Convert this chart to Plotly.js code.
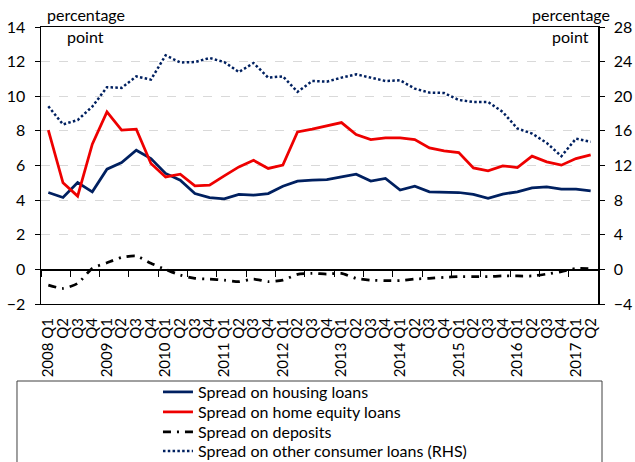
<!DOCTYPE html>
<html>
<head>
<meta charset="utf-8">
<script src="https://cdn.plot.ly/plotly-3.0.1.min.js"></script>
<style>html,body{margin:0;padding:0;background:#fff;}#chart{width:635px;height:462px;}</style>
</head>
<body>
<div id="chart"></div>
<script>
const quarters = ['2008Q1','2008Q2','2008Q3','2008Q4','2009Q1','2009Q2','2009Q3','2009Q4',
  '2010Q1','2010Q2','2010Q3','2010Q4','2011Q1','2011Q2','2011Q3','2011Q4',
  '2012Q1','2012Q2','2012Q3','2012Q4','2013Q1','2013Q2','2013Q3','2013Q4',
  '2014Q1','2014Q2','2014Q3','2014Q4','2015Q1','2015Q2','2015Q3','2015Q4',
  '2016Q1','2016Q2','2016Q3','2016Q4','2017Q1','2017Q2'];
const tickLabels = ['2008\u00a0Q1','Q2','Q3','Q4','2009\u00a0Q1','Q2','Q3','Q4',
  '2010\u00a0Q1','Q2','Q3','Q4','2011\u00a0Q1','Q2','Q3','Q4',
  '2012\u00a0Q1','Q2','Q3','Q4','2013\u00a0Q1','Q2','Q3','Q4',
  '2014\u00a0Q1','Q2','Q3','Q4','2015\u00a0Q1','Q2','Q3','Q4',
  '2016\u00a0Q1','Q2','Q3','Q4','2017\u00a0Q1','Q2'];
const housingLoans = [4.44,4.15,5.02,4.48,5.79,6.17,6.88,6.40,5.54,5.15,4.38,4.15,4.07,4.33,4.29,4.38,
  4.80,5.10,5.15,5.19,5.34,5.50,5.10,5.25,4.58,4.80,4.48,4.48,4.44,4.33,4.10,4.35,4.48,4.71,4.77,4.63,4.63,4.54];
const homeEquityLoans = [8.04,5.00,4.23,7.23,9.10,8.04,8.10,6.12,5.34,5.50,4.82,4.86,5.40,5.92,6.30,5.83,
  6.02,7.94,8.10,8.30,8.48,7.79,7.50,7.60,7.60,7.50,7.02,6.85,6.75,5.86,5.69,5.98,5.88,6.54,6.21,6.02,6.40,6.61];
const deposits = [-0.91,-1.10,-0.81,0.06,0.38,0.69,0.77,0.35,0.00,-0.33,-0.52,-0.56,-0.62,-0.71,-0.56,-0.71,
  -0.62,-0.29,-0.23,-0.27,-0.23,-0.52,-0.62,-0.65,-0.65,-0.56,-0.52,-0.46,-0.42,-0.42,-0.42,-0.38,-0.38,-0.38,-0.27,-0.13,0.06,0.04];
const otherConsumerLoans = [18.84,16.75,17.25,18.80,21.05,20.96,22.30,21.92,24.73,23.90,23.95,24.42,23.95,22.80,23.84,22.15,
  22.30,20.50,21.76,21.69,22.15,22.53,22.15,21.76,21.84,20.88,20.42,20.38,19.57,19.34,19.34,18.19,16.27,15.69,14.61,13.07,15.11,14.73];
const seriesNames = ['Spread on housing loans','Spread on home equity loans','Spread on deposits','Spread on other consumer loans (RHS)'];
const leftTicks = [-2,0,2,4,6,8,10,12,14];
const rightTicks = [-4,0,4,8,12,16,20,24,28];

const FONT = 'Lato, "Open Sans", sans-serif';
const FS = 16;
const navy = '#002060';
const red = '#ee0000';

const traces = [
  {x: quarters, y: housingLoans, name: seriesNames[0], type: 'scatter', mode: 'lines',
   line: {color: navy, width: 2.75}, xaxis: 'x', yaxis: 'y', legend: 'legend'},
  {x: quarters, y: homeEquityLoans, name: seriesNames[1], type: 'scatter', mode: 'lines',
   line: {color: red, width: 2.75}, xaxis: 'x', yaxis: 'y', legend: 'legend2'},
  {x: quarters, y: deposits, name: seriesNames[2], type: 'scatter', mode: 'lines',
   line: {color: '#000000', width: 2.75, dash: '8px,6px,2px,6px', shape: 'spline', smoothing: 0.6}, xaxis: 'x2', yaxis: 'y', legend: 'legend3'},
  {x: quarters, y: otherConsumerLoans, name: seriesNames[3], type: 'scatter', mode: 'lines',
   line: {color: navy, width: 2.5, dash: '2.5px,2.3px'}, xaxis: 'x', yaxis: 'y2', legend: 'legend4'}
];

function legendAt(yPaper) {
  return {x: 0.21, y: yPaper, xanchor: 'left', yanchor: 'middle', orientation: 'v',
    bgcolor: 'rgba(0,0,0,0)', borderwidth: 0, font: {family: FONT, size: FS, color: '#000000'}};
}

const layout = {
  width: 635, height: 462,
  margin: {l: 41, r: 37, t: 27, b: 158, autoexpand: false},
  paper_bgcolor: '#ffffff', plot_bgcolor: '#ffffff',
  font: {family: FONT, size: FS, color: '#000000'},
  showlegend: true,
  xaxis: {
    type: 'category', range: [-0.5, 37.5], tickvals: quarters, ticktext: tickLabels,
    tickangle: -90, ticks: '', showgrid: false, zeroline: false, automargin: false,
    showline: true, mirror: true, linecolor: '#000000', linewidth: 1,
    tickfont: {family: FONT, size: 15, color: '#000000'}, ticklabelstandoff: 7
  },
  xaxis2: {
    type: 'category', overlaying: 'x', anchor: 'free', position: 0.125, range: [-0.5, 37.5],
    showticklabels: false, ticks: 'outside', ticklen: 6, tickcolor: '#000000', tickwidth: 1,
    tickson: 'boundaries', showgrid: false, zeroline: false, automargin: false,
    showline: true, linecolor: '#000000', linewidth: 1.2
  },
  yaxis: {
    range: [-2, 14], tickvals: leftTicks, ticks: 'outside', ticklen: 5, tickcolor: '#000000',
    showline: true, linecolor: '#000000', linewidth: 1.5, zeroline: false, automargin: false,
    showgrid: true, gridcolor: '#d9d9d9', griddash: 'dash', gridwidth: 1,
    tickfont: {family: FONT, size: FS, color: '#000000'}, ticklabelstandoff: 6
  },
  yaxis2: {
    range: [-4, 28], tickvals: rightTicks, overlaying: 'y', side: 'right', anchor: 'x',
    ticks: 'outside', ticklen: 5, tickcolor: '#000000', automargin: false,
    showline: true, linecolor: '#000000', linewidth: 1.5, zeroline: false, showgrid: false,
    tickfont: {family: FONT, size: FS, color: '#000000'}, ticklabelstandoff: 6
  },
  legend: legendAt(-0.3177),
  legend2: legendAt(-0.3899),
  legend3: legendAt(-0.4621),
  legend4: legendAt(-0.5307),
  shapes: [
    {type: 'rect', xref: 'paper', yref: 'paper', x0: -0.0431, x1: 1.0072, y0: -0.58, y1: -0.278,
     line: {color: '#404040', width: 1}, fillcolor: 'rgba(0,0,0,0)'}
  ],
  annotations: [
    {text: 'percentage', xref: 'paper', yref: 'paper', x: 0.080, y: 1.046, showarrow: false, xanchor: 'center', yanchor: 'middle', font: {family: FONT, size: FS}},
    {text: 'point', xref: 'paper', yref: 'paper', x: 0.079, y: 0.964, showarrow: false, xanchor: 'center', yanchor: 'middle', font: {family: FONT, size: FS}},
    {text: 'percentage', xref: 'paper', yref: 'paper', x: 0.951, y: 1.046, showarrow: false, xanchor: 'center', yanchor: 'middle', font: {family: FONT, size: FS}},
    {text: 'point', xref: 'paper', yref: 'paper', x: 0.951, y: 0.964, showarrow: false, xanchor: 'center', yanchor: 'middle', font: {family: FONT, size: FS}}
  ]
};

Plotly.newPlot('chart', traces, layout, {displayModeBar: false, staticPlot: true});
</script>
</body>
</html>
